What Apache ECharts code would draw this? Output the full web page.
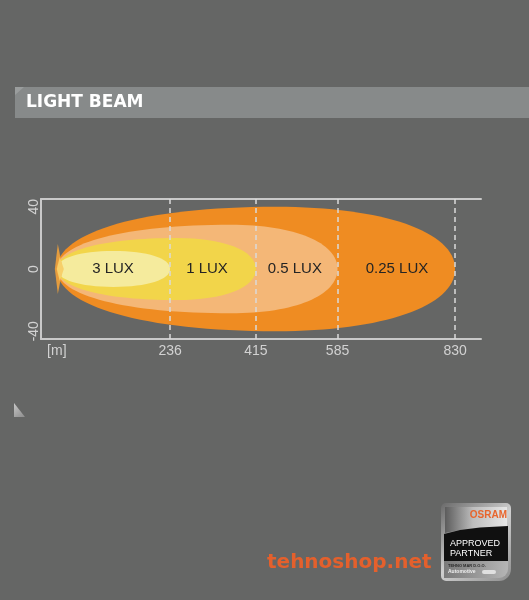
<!DOCTYPE html>
<html>
<head>
<meta charset="utf-8">
<script src="https://cdn.jsdelivr.net/npm/echarts@6/dist/echarts.min.js"></script>
<style>
html,body{margin:0;padding:0;background:#656665;}
#chart{width:529px;height:600px;}
</style>
</head>
<body>
<div id="chart"></div>
<script>
// ---- data ----
const categories = ['0.25 LUX', '0.5 LUX', '1 LUX', '3 LUX'];
const distances = [830, 585, 415, 236];        // beam reach [m]
const halfWidths = [40, 28.5, 20, 11.5];       // beam half width
const labelPositions = [709, 496, 313, 117];   // label centre along the beam [m]
const xTicks = [0, 236, 415, 585, 830];
const yTicks = [40, 0, -40];

// ---- styles ----
const beamColors = ['#ef8c22', '#f4b777', '#f2d54a', '#f5eb9d'];
const peakFrac = [0.55, 0.62, 0.6, 0.5];
const lineColor = '#c9c9c9';
const labelColor = '#d2d2d2';

const chart = echarts.init(document.getElementById('chart'), null, {renderer: 'canvas'});

function beamItem(params, api) {
  const i = params.dataIndex;
  const d = api.value(0), w = api.value(1);
  const o = api.coord([0, 0]);
  const e = api.coord([d, 0]);
  const t = api.coord([0, w]);
  const L = e[0] - o[0];
  const H = o[1] - t[1];
  const p = peakFrac[i];
  const k = 0.6;
  const px = o[0] + p * L;
  const pl = p * L, pr = (1 - p) * L;
  const y0 = o[1];
  const path =
    'M' + o[0] + ' ' + y0 +
    ' C' + o[0] + ' ' + (y0 - k * H) + ' ' + (px - k * pl) + ' ' + (y0 - H) + ' ' + px + ' ' + (y0 - H) +
    ' C' + (px + k * pr) + ' ' + (y0 - H) + ' ' + e[0] + ' ' + (y0 - k * H) + ' ' + e[0] + ' ' + y0 +
    ' C' + e[0] + ' ' + (y0 + k * H) + ' ' + (px + k * pr) + ' ' + (y0 + H) + ' ' + px + ' ' + (y0 + H) +
    ' C' + (px - k * pl) + ' ' + (y0 + H) + ' ' + o[0] + ' ' + (y0 + k * H) + ' ' + o[0] + ' ' + y0 + ' Z';
  const children = [{
    type: 'path',
    shape: {pathData: path},
    style: {fill: beamColors[i], stroke: null}
  }];
  if (i === distances.length - 1) {
    // small lamp flare at origin
    children.push({
      type: 'polygon',
      shape: {points: [[o[0] - 2, y0], [o[0] + 1, y0 - 25], [o[0] + 5, y0 - 4], [o[0] + 5, y0 + 4], [o[0] + 1, y0 + 25]]},
      style: {fill: '#f2a23a', opacity: 0.9}
    });
    children.push({
      type: 'polygon',
      shape: {points: [[o[0], y0], [o[0] + 3, y0 - 12], [o[0] + 7, y0], [o[0] + 3, y0 + 12]]},
      style: {fill: '#f7cf6a'}
    });
  }
  return {type: 'group', children: children};
}

function labelItem(params, api) {
  const c = api.coord([api.value(0), api.value(1)]);
  return {
    type: 'text',
    x: c[0], y: c[1],
    style: {
      text: categories[params.dataIndex],
      fill: '#242424',
      font: '15px "Liberation Sans", Arial, sans-serif',
      align: 'center', verticalAlign: 'middle',
      textAlign: 'center', textVerticalAlign: 'middle'
    }
  };
}

const option = {
  backgroundColor: '#656665',
  animation: false,
  grid: {left: 41, top: 199, right: 48, bottom: 261},
  xAxis: [{
    type: 'value', min: -33, max: 884, position: 'bottom',
    axisLine: {show: true, onZero: false, lineStyle: {color: lineColor, width: 2}},
    axisTick: {show: false},
    splitLine: {show: false},
    axisLabel: {
      customValues: xTicks,
      formatter: v => (v === 0 ? '[m]' : String(v)),
      color: labelColor, fontSize: 14, margin: 5,
      fontFamily: '"Liberation Sans", Arial, sans-serif'
    }
  }, {
    type: 'value', min: -33, max: 884, position: 'top',
    axisLine: {show: true, onZero: false, lineStyle: {color: lineColor, width: 2}},
    axisTick: {show: false}, splitLine: {show: false}, axisLabel: {show: false}
  }],
  yAxis: {
    type: 'value', min: -45, max: 45,
    axisLine: {show: true, onZero: false, lineStyle: {color: lineColor, width: 2}},
    axisTick: {show: false},
    splitLine: {show: false},
    axisLabel: {
      customValues: yTicks, rotate: 90,
      color: labelColor, fontSize: 14, margin: 0,
      fontFamily: '"Liberation Sans", Arial, sans-serif'
    }
  },
  series: [{
    type: 'custom',
    z: 2,
    renderItem: beamItem,
    data: distances.map((d, i) => [d, halfWidths[i]]),
    silent: true
  }, {
    type: 'custom',
    z: 5,
    renderItem: labelItem,
    data: labelPositions.map(x => [x, 0]),
    silent: true,
    markLine: {
      silent: true,
      symbol: ['none', 'none'],
      label: {show: false},
      lineStyle: {type: [5, 4], color: '#dadada', width: 1.5},
      data: xTicks.filter(v => v !== 0).map(v => ({xAxis: v}))
    }
  }],
  graphic: [
    // title band
    {type: 'rect', shape: {x: 15, y: 87, width: 514, height: 31}, style: {fill: '#878a8a'}},
    {type: 'polygon', shape: {points: [[15, 87], [24, 87], [15, 95]]}, style: {fill: '#9a9d9d'}},
    {type: 'text', x: 26, y: 103, style: {text: 'LIGHT BEAM', fill: '#ffffff', font: 'bold 17px "DejaVu Sans", sans-serif', verticalAlign: 'middle', textVerticalAlign: 'middle'}},
    // small corner mark
    {type: 'polygon', shape: {points: [[14, 403], [14, 417], [25, 417]]},
      style: {fill: new echarts.graphic.LinearGradient(0, 0, 1, 1, [{offset: 0, color: '#c8c8c8'}, {offset: 1, color: '#8d8d8d'}])}},
    // watermark
    {type: 'text', x: 267, y: 563, style: {text: 'tehnoshop.net', fill: '#e4602c', font: 'bold 20px "DejaVu Sans", sans-serif', verticalAlign: 'middle', textVerticalAlign: 'middle'}},
    // OSRAM badge
    {type: 'rect', shape: {x: 441, y: 503, width: 70, height: 78, r: [5, 5, 12, 5]},
      style: {fill: new echarts.graphic.LinearGradient(0, 0, 1, 1, [{offset: 0, color: '#6a6a6a'}, {offset: 0.5, color: '#cfcfcf'}, {offset: 1, color: '#8e8e8e'}])}},
    {type: 'polygon', shape: {points: [[445, 507], [507, 507], [507, 527], [480, 528], [460, 530], [445, 533]]},
      style: {fill: new echarts.graphic.LinearGradient(0, 0, 1, 0, [{offset: 0, color: '#5c5c5c'}, {offset: 0.45, color: '#bdbdbd'}, {offset: 1, color: '#e6e6e6'}])}},
    {type: 'polygon', shape: {points: [[444, 534], [460, 530], [480, 527.5], [508, 526], [508, 561], [444, 561]]}, style: {fill: '#101010'}},
    {type: 'rect', shape: {x: 444, y: 561, width: 64, height: 17, r: [0, 0, 9, 0]},
      style: {fill: new echarts.graphic.LinearGradient(0, 0, 1, 0, [{offset: 0, color: '#7a7a7a'}, {offset: 1, color: '#b5b5b5'}])}},
    {type: 'text', x: 507, y: 515, style: {text: 'OSRAM', fill: '#e8652c', font: 'bold 10px "Liberation Sans", Arial, sans-serif', align: 'right', textAlign: 'right', verticalAlign: 'middle', textVerticalAlign: 'middle'}},
    {type: 'text', x: 450, y: 543.5, style: {text: 'APPROVED', fill: '#ffffff', font: '9px "Liberation Sans", Arial, sans-serif', verticalAlign: 'middle', textVerticalAlign: 'middle'}},
    {type: 'text', x: 450, y: 553.5, style: {text: 'PARTNER', fill: '#ffffff', font: '9px "Liberation Sans", Arial, sans-serif', verticalAlign: 'middle', textVerticalAlign: 'middle'}},
    {type: 'text', x: 448, y: 565.5, style: {text: 'TEHNO MAR D.O.O.', fill: '#2a2a2a', font: 'bold 4px "Liberation Sans", Arial, sans-serif', verticalAlign: 'middle', textVerticalAlign: 'middle'}},
    {type: 'text', x: 448, y: 572, style: {text: 'Automotive', fill: '#f0f0f0', font: 'bold 5px "Liberation Sans", Arial, sans-serif', verticalAlign: 'middle', textVerticalAlign: 'middle'}},
    {type: 'rect', shape: {x: 482, y: 570, width: 14, height: 4, r: 2}, style: {fill: '#e0e0e0'}}
  ]
};
chart.setOption(option);
</script>
</body>
</html>
